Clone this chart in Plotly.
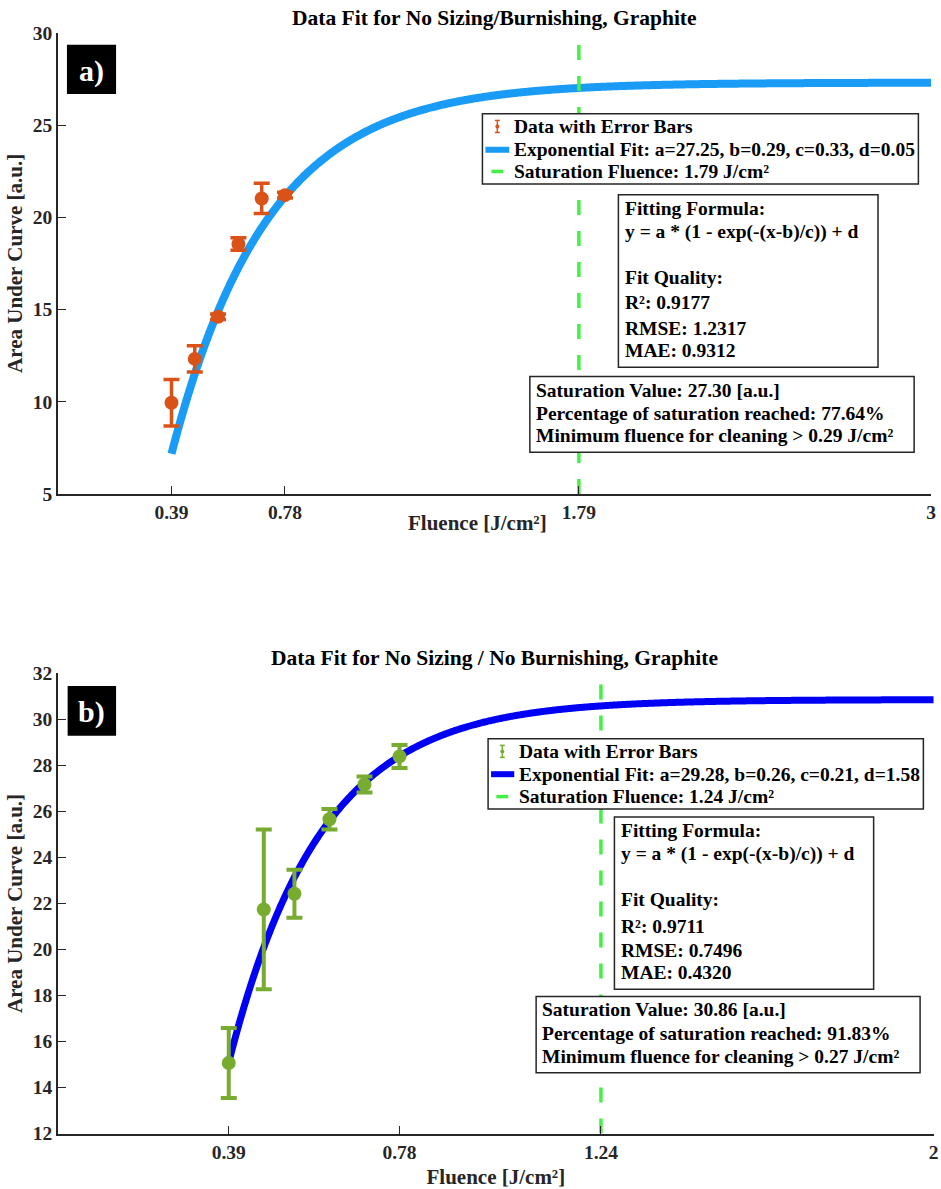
import numpy as np
import plotly.graph_objects as go

# ---------------- data: panel a ----------------
fluence_a = [0.39, 0.47, 0.55, 0.62, 0.70, 0.78]
auc_a = [9.94, 12.32, 14.61, 18.55, 21.02, 21.2]
err_a = [1.26, 0.71, 0.15, 0.34, 0.82, 0.15]
fit_a = dict(a=27.25, b=0.29, c=0.33, d=0.05)
sat_fluence_a = 1.79
xticks_a = [0.39, 0.78, 1.79, 3]
xticktext_a = ["0.39", "0.78", "1.79", "3"]
yticks_a = [5, 10, 15, 20, 25, 30]
yrange_a = [5, 30]
xrange_a = [0, 3]

# ---------------- data: panel b ----------------
fluence_b = [0.39, 0.47, 0.54, 0.62, 0.70, 0.78]
auc_b = [15.07, 21.74, 22.42, 25.66, 27.17, 28.39]
err_b = [1.52, 3.47, 1.04, 0.45, 0.35, 0.5]
fit_b = dict(a=29.28, b=0.26, c=0.21, d=1.58)
sat_fluence_b = 1.24
xticks_b = [0.39, 0.78, 1.24, 2]
xticktext_b = ["0.39", "0.78", "1.24", "2"]
yticks_b = [12, 14, 16, 18, 20, 22, 24, 26, 28, 30, 32]
yrange_b = [12, 32]
xrange_b = [0, 2]

# ---------------- texts ----------------
title_a = "Data Fit for No Sizing/Burnishing, Graphite"
title_b = "Data Fit for No Sizing / No Burnishing, Graphite"
xlabel = "Fluence [J/cm²]"
ylabel = "Area Under Curve [a.u.]"
legend_a = ["Data with Error Bars",
            "Exponential Fit: a=27.25, b=0.29, c=0.33, d=0.05",
            "Saturation Fluence: 1.79 J/cm²"]
legend_b = ["Data with Error Bars",
            "Exponential Fit: a=29.28, b=0.26, c=0.21, d=1.58",
            "Saturation Fluence: 1.24 J/cm²"]
fitbox_a = ["Fitting Formula:", "y = a * (1 - exp(-(x-b)/c)) + d", "Fit Quality:",
            "R²: 0.9177", "RMSE: 1.2317", "MAE: 0.9312"]
satbox_a = ["Saturation Value: 27.30 [a.u.]", "Percentage of saturation reached: 77.64%",
            "Minimum fluence for cleaning > 0.29 J/cm²"]
fitbox_b = ["Fitting Formula:", "y = a * (1 - exp(-(x-b)/c)) + d", "Fit Quality:",
            "R²: 0.9711", "RMSE: 0.7496", "MAE: 0.4320"]
satbox_b = ["Saturation Value: 30.86 [a.u.]", "Percentage of saturation reached: 91.83%",
            "Minimum fluence for cleaning > 0.27 J/cm²"]

# page geometry (figure placed at the page's top-left corner)
S_Y, TOP = 0.982, 10.3
W, H = 941, 1200
FONT = "Liberation Serif, Times New Roman, serif"
AX = "#262626"
ORANGE = "#D95319"
GREEN_PTS = "#77AC30"
LIGHTBLUE = "#1A9BF5"
BLUE = "#0000F5"
SATGREEN = "#44F044"


def fit_curve(p, x0, x1, n=800):
    x = np.linspace(x0, x1, n)
    y = p["a"] * (1 - np.exp(-(x - p["b"]) / p["c"])) + p["d"]
    return x, y


def px(xpage):
    return min(max(xpage / W, 0), 1)


def py(ypage):
    return min(max(1 - ((ypage - TOP) / S_Y) / H, 0), 1)


fig = go.Figure()

# ---- panel a traces ----
xa, ya = fit_curve(fit_a, fluence_a[0], xrange_a[1])
fig.add_trace(go.Scatter(x=xa, y=ya, mode="lines",
                         line=dict(color=LIGHTBLUE, width=8, simplify=False),
                         name=legend_a[1], xaxis="x", yaxis="y", showlegend=False))
fig.add_trace(go.Scatter(x=fluence_a, y=auc_a, mode="markers",
                         marker=dict(color=ORANGE, size=14),
                         error_y=dict(type="data", array=err_a, color=ORANGE, thickness=3.5, width=8),
                         name=legend_a[0], xaxis="x", yaxis="y", showlegend=False))
fig.add_trace(go.Scatter(x=[sat_fluence_a, sat_fluence_a], y=yrange_a, mode="lines",
                         line=dict(color=SATGREEN, width=3.5, dash="15px,16px"),
                         name=legend_a[2], xaxis="x", yaxis="y", showlegend=False))

# ---- panel b traces ----
xb, yb = fit_curve(fit_b, fluence_b[0], xrange_b[1])
fig.add_trace(go.Scatter(x=xb, y=yb, mode="lines",
                         line=dict(color=BLUE, width=7, simplify=False),
                         name=legend_b[1], xaxis="x2", yaxis="y2", showlegend=False))
fig.add_trace(go.Scatter(x=fluence_b, y=auc_b, mode="markers",
                         marker=dict(color=GREEN_PTS, size=14),
                         error_y=dict(type="data", array=err_b, color=GREEN_PTS, thickness=4, width=8),
                         name=legend_b[0], xaxis="x2", yaxis="y2", showlegend=False))
fig.add_trace(go.Scatter(x=[sat_fluence_b, sat_fluence_b], y=yrange_b, mode="lines",
                         line=dict(color=SATGREEN, width=3.5, dash="15px,16px"),
                         name=legend_b[2], xaxis="x2", yaxis="y2", showlegend=False))

tickfont = dict(family=FONT, size=19.5, color=AX, weight="bold")
axtitlefont = dict(family=FONT, size=21, color=AX, weight="bold")
common = dict(showline=True, linecolor=AX, linewidth=1.5, ticks="inside",
              ticklen=8, tickcolor=AX, tickwidth=1.2, showgrid=False,
              zeroline=False, tickfont=tickfont, ticklabeloverflow="allow")

fig.update_layout(
    width=W, height=H, margin=dict(l=0, r=0, t=0, b=0),
    paper_bgcolor="white", plot_bgcolor="white",
    font=dict(family=FONT, color="black"), showlegend=False,
    xaxis=dict(common, range=xrange_a, tickvals=xticks_a, ticktext=xticktext_a,
               domain=[px(58.3), px(936)], anchor="y"),
    yaxis=dict(common, range=yrange_a, tickvals=yticks_a,
               domain=[py(494), py(33.1)], anchor="x",
               title=dict(text=ylabel, font=axtitlefont, standoff=4)),
    xaxis2=dict(common, range=xrange_b, tickvals=xticks_b, ticktext=xticktext_b,
                domain=[px(58.3), px(938.7)], anchor="y2",
                title=dict(text=xlabel, font=axtitlefont, standoff=8)),
    yaxis2=dict(common, range=yrange_b, tickvals=yticks_b,
                domain=[py(1133.3), py(673.3)], anchor="x2",
                title=dict(text=ylabel, font=axtitlefont, standoff=4)),
)

ann = []
shapes = []


def text(t, x, y, size=19.5, xanchor="left", color="black"):
    ann.append(dict(text=t, x=px(x), y=py(y), xref="paper", yref="paper",
                    xanchor=xanchor, yanchor="middle", showarrow=False,
                    font=dict(family=FONT, size=size, color=color, weight="bold")))


def rect(x0, y0, x1, y1, fill="white", line=AX, lw=1.5):
    shapes.append(dict(type="rect", xref="paper", yref="paper", layer="above",
                       x0=px(x0), x1=px(x1), y0=py(y0), y1=py(y1),
                       fillcolor=fill, line=dict(color=line, width=lw)))


def seg(x0, y0, x1, y1, color, width):
    shapes.append(dict(type="line", xref="paper", yref="paper", layer="above",
                       x0=px(x0), x1=px(x1), y0=py(y0), y1=py(y1),
                       line=dict(color=color, width=width)))


# titles and the panel-a x-axis title
text(title_a, 497.5, 18.5, size=21.5, xanchor="center")
text(title_b, 497.5, 658, size=21.5, xanchor="center")
text(xlabel, 480, 523.3, size=21, xanchor="center", color=AX)

# panel labels
rect(67.3, 45, 116.7, 94.3, fill="black", line="black", lw=0)
text("a)", 92, 71, size=30, xanchor="center", color="white")
rect(68, 686, 116.7, 735.7, fill="black", line="black", lw=0)
text("b)", 92.3, 712, size=30, xanchor="center", color="white")


def legend_box(x0, y0, x1, y1, rows, labels, txt_x, key_x, data_color, fit_color):
    rect(x0, y0, x1, y1)
    cx, cy = key_x, rows[0]
    seg(cx, cy - 6, cx, cy + 6, data_color, 1.5)
    seg(cx - 2.5, cy - 6, cx + 2.5, cy - 6, data_color, 1.5)
    seg(cx - 2.5, cy + 6, cx + 2.5, cy + 6, data_color, 1.5)
    shapes.append(dict(type="circle", xref="paper", yref="paper", layer="above",
                       x0=px(cx - 2), x1=px(cx + 2), y0=py(cy - 2), y1=py(cy + 2),
                       fillcolor=data_color, line=dict(width=0)))
    seg(x0 + 3, rows[1], txt_x - 3, rows[1], fit_color, 6)
    seg(key_x - 6, rows[2], key_x + 6, rows[2], SATGREEN, 3.5)
    for r, lab in zip(rows, labels):
        text(lab, txt_x, r)


legend_box(485, 114, 923.3, 184.3, [126.7, 150, 171.7], legend_a, 515, 500,
           ORANGE, LIGHTBLUE)
legend_box(490.7, 738.7, 928.3, 808.8, [751.3, 774.1, 796.5], legend_b, 520, 505,
           GREEN_PTS, BLUE)


def info_box(x0, y0, x1, y1, lines, txt_x, ys):
    rect(x0, y0, x1, y1)
    for t, yy in zip(lines, ys):
        text(t, txt_x, yy)


info_box(621.7, 195, 882.7, 367.3, fitbox_a, 626.7, [209, 231.7, 277.3, 303, 329, 351])
info_box(532.7, 376.7, 919, 452.3, satbox_a, 536.7, [391, 413.3, 436])
info_box(617.7, 816.8, 878.3, 989.1, fitbox_b, 622.3, [830.8, 853.6, 899.8, 926, 949.9, 972.6])
info_box(539, 996.4, 925, 1072.4, satbox_b, 543.3, [1009.4, 1032.8, 1056])

fig.update_layout(annotations=ann, shapes=shapes)

fig.write_html("out.html", config={"displayModeBar": False},
               post_script="document.body.style.margin='0';")
